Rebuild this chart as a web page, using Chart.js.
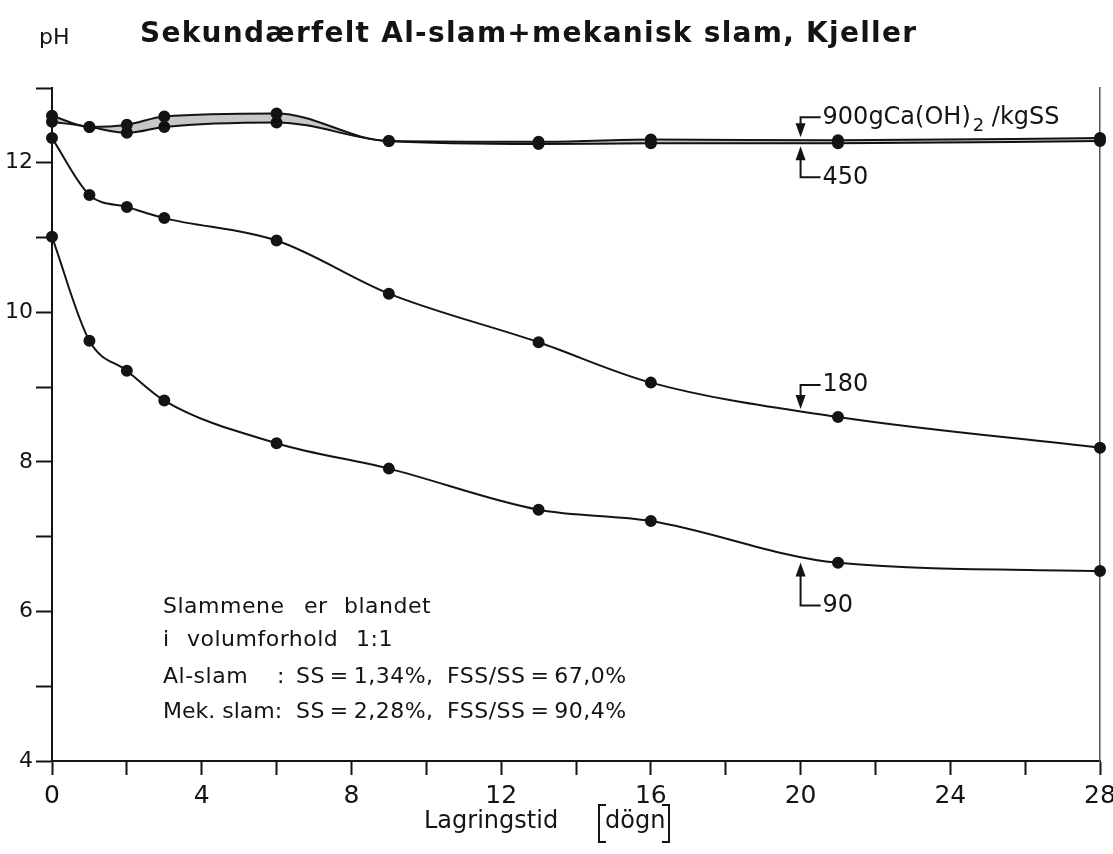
<!DOCTYPE html>
<html>
<head>
<meta charset="utf-8">
<script src="https://cdn.jsdelivr.net/npm/chart.js@4/dist/chart.umd.min.js"></script>
<style>
  body { margin: 0; background: #fff; }
  #wrap { width: 1113px; height: 854px; }
</style>
</head>
<body>
<div id="wrap"><canvas id="ph-chart" width="1113" height="854"></canvas></div>
<script>
// lagringstid i døgn
const days = [0, 1, 2, 3, 6, 9, 13, 16, 21, 28];

// pH for hver dosering (g Ca(OH)2 / kg SS)
const ph900 = [12.63, 12.48, 12.51, 12.62, 12.66, 12.29, 12.28, 12.31, 12.30, 12.33];
const ph450 = [12.55, 12.48, 12.40, 12.48, 12.54, 12.29, 12.25, 12.26, 12.26, 12.29];
const ph180 = [12.33, 11.57, 11.41, 11.26, 10.96, 10.25, 9.60, 9.06, 8.60, 8.19];
const ph90 = [11.01, 9.62, 9.22, 8.82, 8.25, 7.91, 7.36, 7.21, 6.65, 6.54];

const xTicks = [0, 4, 8, 12, 16, 20, 24, 28];
const yTicks = [4, 6, 8, 10, 12];

const canvas = document.querySelector("#ph-chart");
const ctx = canvas.getContext("2d");

const ink = "#141414";
const font = "'DejaVu Sans', 'Liberation Sans', sans-serif";

const toPoints = (vals) => days.map((d, i) => ({ x: d, y: vals[i] }));

const lineStyle = {
  borderColor: ink,
  borderWidth: 2,
  pointRadius: 5,
  pointBackgroundColor: ink,
  pointBorderColor: ink,
  cubicInterpolationMode: "monotone",
  clip: false,
};

// etiketter med piler ved dag 20
const arrows = [
  { text: "900gCa(OH)", sub: "2", tail: " /kgSS", day: 20, ph: 12.30, up: false, tipOff: -3, elbow: -20 },
  { text: "450", day: 20, ph: 12.26, up: true, tipOff: 3, elbow: 31 },
  { text: "180", day: 20, ph: 8.68, up: false, tipOff: -2, elbow: -24 },
  { text: "90", day: 20, ph: 6.68, up: true, tipOff: 2, elbow: 43 },
];

const textPlugin = {
  id: "texts",
  afterDraw(chart) {
    const c = chart.ctx;
    const xs = chart.scales.x;
    const ys = chart.scales.y;
    c.save();
    c.fillStyle = ink;
    c.strokeStyle = ink;
    c.textBaseline = "middle";

    // tittel
    c.font = "22px " + font;
    c.fillText("pH", 39, 38);
    c.font = "bold 28px " + font;
    const title = "Sekundærfelt Al-slam+mekanisk slam, Kjeller";
    const w = c.measureText(title).width;
    c.letterSpacing = ((916 - 140 - w) / (title.length - 1)).toFixed(2) + "px";
    c.fillText(title, 140, 35);
    c.letterSpacing = "0px";

    // tekstblokk
    c.font = "22px " + font;
    c.letterSpacing = "0.5px";
    c.fillText("Slammene", 163, 607);
    c.fillText("er", 304, 607);
    c.fillText("blandet", 344, 607);
    c.fillText("i", 163, 640);
    c.fillText("volumforhold", 187, 640);
    c.fillText("1:1", 356, 640);
    c.fillText("Al-slam", 163, 677);
    c.fillText(":", 277, 677);
    c.fillText("SS\u2009=\u20091,34%,", 296, 677);
    c.fillText("FSS/SS\u2009=\u200967,0%", 447, 677);
    c.letterSpacing = "0px";
    c.fillText("Mek. slam:", 163, 712);
    c.letterSpacing = "0.5px";
    c.fillText("SS\u2009=\u20092,28%,", 296, 712);
    c.fillText("FSS/SS\u2009=\u200990,4%", 447, 712);
    c.letterSpacing = "0px";

    // akse-tittel
    c.font = "24px " + font;
    c.fillText("Lagringstid", 424, 822);
    c.fillText("dögn", 605, 822);
    c.lineWidth = 2;
    c.beginPath();
    c.moveTo(606, 805); c.lineTo(599, 805); c.lineTo(599, 842); c.lineTo(606, 842);
    c.moveTo(662, 805); c.lineTo(669, 805); c.lineTo(669, 842); c.lineTo(662, 842);
    c.stroke();

    // piler
    arrows.forEach((a) => {
      const px = xs.getPixelForValue(a.day);
      const tip = ys.getPixelForValue(a.ph) + a.tipOff;
      const ey = tip + a.elbow;
      const dir = a.up ? 1 : -1;
      c.lineWidth = 2;
      c.beginPath();
      c.moveTo(px, tip + dir * 10);
      c.lineTo(px, ey);
      c.lineTo(px + 20, ey);
      c.stroke();
      c.beginPath();
      c.moveTo(px, tip);
      c.lineTo(px - 5, tip + dir * 14);
      c.lineTo(px + 5, tip + dir * 14);
      c.closePath();
      c.fill();
      c.font = "24px " + font;
      c.fillText(a.text, px + 22, ey);
      if (a.sub) {
        let tx = px + 22 + c.measureText(a.text).width + 2;
        c.font = "18px " + font;
        c.fillText(a.sub, tx, ey + 9);
        tx += c.measureText(a.sub).width;
        c.font = "24px " + font;
        c.fillText(a.tail, tx, ey);
      }
    });
    c.restore();
  },
};

new Chart(ctx, {
  type: "line",
  data: {
    datasets: [
      { ...lineStyle, label: "900", data: toPoints(ph900), fill: "+1", backgroundColor: "rgba(0,0,0,0.22)" },
      { ...lineStyle, label: "450", data: toPoints(ph450) },
      { ...lineStyle, label: "180", data: toPoints(ph180) },
      { ...lineStyle, label: "90", data: toPoints(ph90) },
    ],
  },
  options: {
    responsive: false,
    animation: false,
    layout: { autoPadding: false, padding: { top: 88, left: 0, right: 0, bottom: 0 } },
    plugins: { legend: { display: false }, tooltip: { enabled: false } },
    scales: {
      x: {
        type: "linear",
        min: 0,
        max: 28,
        afterFit: (s) => { s.height = 93; s.paddingLeft = 0; s.paddingRight = 0; },
        ticks: {
          stepSize: 2,
          autoSkip: false,
          maxRotation: 0,
          padding: 6,
          color: ink,
          font: { family: font, size: 25 },
          callback: (v) => (xTicks.includes(v) ? String(v) : ""),
        },
        grid: { drawOnChartArea: false, tickLength: 14, tickWidth: 2, tickColor: ink },
        border: { color: ink, width: 2 },
      },
      y: {
        min: 4,
        max: 13,
        afterFit: (s) => { s.width = 52; s.paddingTop = 0; s.paddingBottom = 0; },
        ticks: {
          stepSize: 1,
          autoSkip: false,
          padding: 3,
          color: ink,
          font: { family: font, size: 22 },
          callback: (v) => (yTicks.includes(v) ? String(v) : ""),
        },
        grid: { drawOnChartArea: false, tickLength: 16, tickWidth: 2, tickColor: ink },
        border: { color: ink, width: 2 },
      },
      y2: {
        position: "right",
        min: 4,
        max: 13,
        afterFit: (s) => { s.width = 13; },
        ticks: { display: false },
        grid: { display: false, drawTicks: false },
        border: { color: "#555", width: 1.5 },
      },
    },
  },
  plugins: [textPlugin],
});
</script>
</body>
</html>
